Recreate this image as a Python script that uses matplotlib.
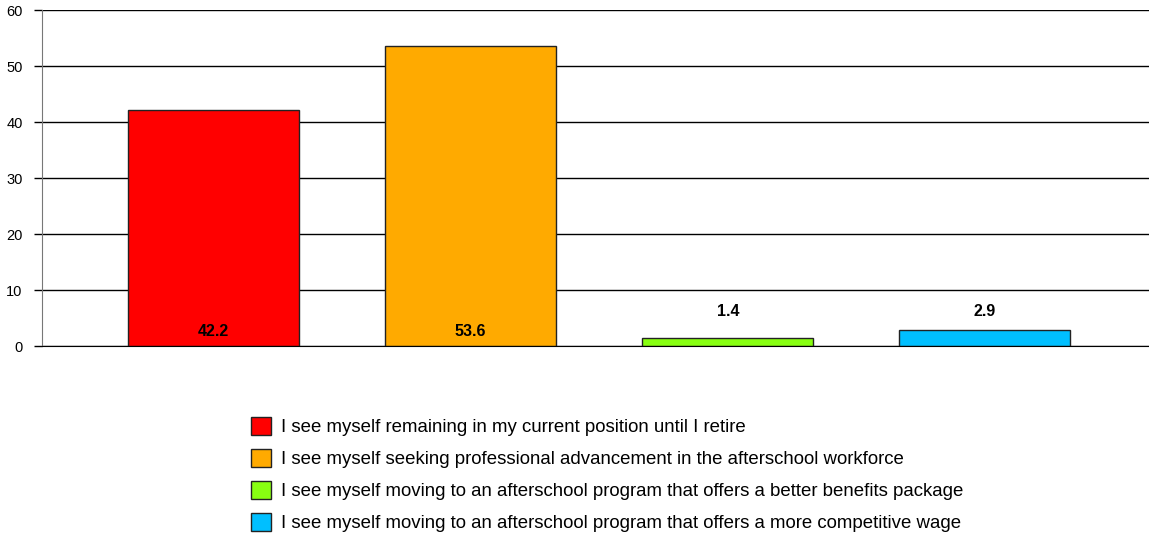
import matplotlib
matplotlib.use("Agg")
import matplotlib.pyplot as plt
from matplotlib.patches import Patch

categories = [
    "I see myself remaining in my current position until I retire",
    "I see myself seeking professional advancement in the afterschool workforce",
    "I see myself moving to an afterschool program that offers a better benefits package",
    "I see myself moving to an afterschool program that offers a more competitive wage",
]
values = [42.2, 53.6, 1.4, 2.9]
colors = ["#ff0000", "#ffaa00", "#88ff11", "#00bfff"]
yticks = [0, 10, 20, 30, 40, 50, 60]

plt.rcParams["font.family"] = ["Liberation Sans", "DejaVu Sans"]

W, H = 1149, 536
fig = plt.figure(figsize=(W / 100, H / 100), dpi=100)
ax = fig.add_axes([42 / W, 1 - 346 / H, 1 - 42 / W, 336 / H])

x = list(range(len(values)))
ax.bar(x, values, width=0.665, color=colors, edgecolor="#222222", linewidth=1.0, zorder=3)

for xi, v in zip(x, values):
    ypos = 2.5 if v > 10 else 6.2
    ax.text(xi, ypos, f"{v:.1f}", ha="center", va="center",
            fontsize=11.5, fontweight="bold", zorder=4)

ax.set_xlim(-0.667, 3.638)
ax.set_ylim(0, 60)
ax.set_yticks(yticks)
ax.yaxis.grid(True, color="black", linewidth=1.0, zorder=0)
ax.set_xticks([])
ax.tick_params(axis="y", labelsize=10.5, length=6, width=1, color="black", pad=8)
for s in ["top", "right"]:
    ax.spines[s].set_visible(False)
ax.spines["left"].set_color("#777777")
ax.spines["bottom"].set_color("black")
ax.spines["bottom"].set_zorder(5)

handles = [Patch(facecolor=c, edgecolor="#222222", linewidth=1.0) for c in colors]
fig.legend(handles, categories, loc="upper left",
           bbox_to_anchor=(242 / W, 1 - 408 / H), frameon=False,
           fontsize=13.4, handlelength=1.05, handleheight=1.05,
           handletextpad=0.55, labelspacing=0.7, borderpad=0)

fig.savefig("out.png", dpi=100)
